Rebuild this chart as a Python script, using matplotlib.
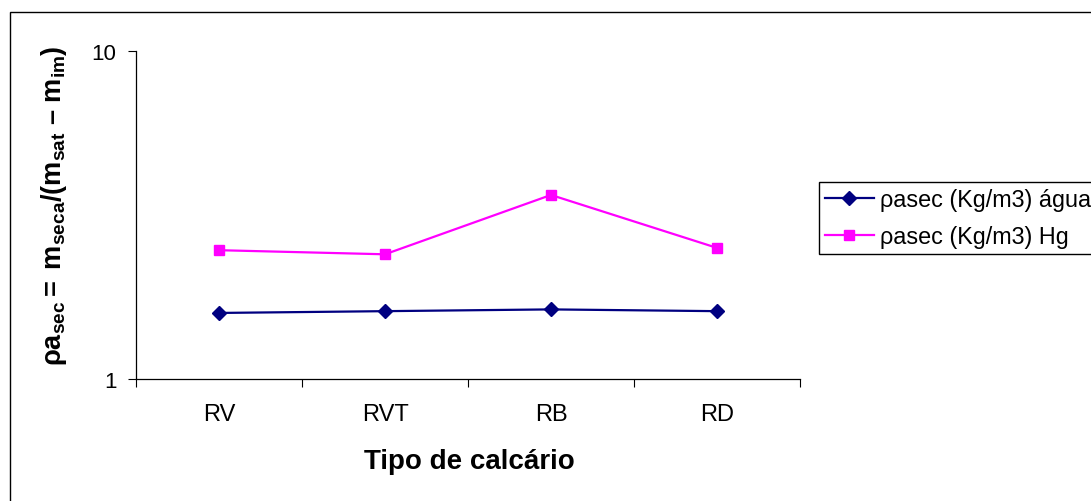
import matplotlib
matplotlib.use("Agg")
import matplotlib.pyplot as plt
from matplotlib.patches import Rectangle
from matplotlib.ticker import FixedLocator, NullLocator, NullFormatter, FixedFormatter

# data
categories = ['RV', 'RVT', 'RB', 'RD']
rho_agua = [1.59, 1.61, 1.63, 1.61]
rho_hg = [2.47, 2.40, 3.64, 2.51]
series_labels = ['ρasec (Kg/m3) água', 'ρasec (Kg/m3) Hg']

plt.rcParams['font.family'] = ['Liberation Sans', 'DejaVu Sans']
plt.rcParams['mathtext.fontset'] = 'custom'
plt.rcParams['mathtext.rm'] = 'Liberation Sans'
plt.rcParams['mathtext.bf'] = 'Liberation Sans:bold'
plt.rcParams['mathtext.it'] = 'Liberation Sans:italic'

W, H = 1091, 502
fig = plt.figure(figsize=(W / 100, H / 100), dpi=100)

# outer chart border (cut off at right and bottom like the reference)
fig.patches.append(Rectangle((10 / W, -0.1), 1.2, 1 - 13 / H + 0.1,
                             transform=fig.transFigure, fill=False,
                             edgecolor='black', linewidth=1))

ax = fig.add_axes([136 / W, 1 - 380 / H, (800 - 136) / W, (380 - 52) / H])

x = list(range(len(categories)))
ax.plot(x, rho_agua, color='#000080', marker='D', markersize=7, linewidth=1.6,
        label=series_labels[0])
ax.plot(x, rho_hg, color='#FF00FF', marker='s', markersize=7, linewidth=1.6,
        label=series_labels[1])

ax.set_yscale('log')
ax.set_ylim(1, 10)
ax.yaxis.set_major_locator(FixedLocator([1, 10]))
ax.yaxis.set_major_formatter(FixedFormatter(['1', '10']))
ax.yaxis.set_minor_locator(NullLocator())
ax.yaxis.set_minor_formatter(NullFormatter())

ax.set_xlim(-0.5, len(categories) - 0.5)
ax.set_xticks([i - 0.5 for i in range(len(categories) + 1)])
ax.set_xticklabels([])
ax.set_xticks(x, minor=True)
ax.set_xticklabels(categories, minor=True)
ax.tick_params(axis='x', which='minor', length=0, pad=17, labelsize=17)
ax.tick_params(axis='x', which='major', length=6, width=0.8, direction='out')
ax.tick_params(axis='y', which='major', length=6, width=0.8, direction='out',
               labelsize=16, pad=8)

for side in ['top', 'right']:
    ax.spines[side].set_visible(False)
for side in ['left', 'bottom']:
    ax.spines[side].set_linewidth(0.9)

fig.text(54 / W, 1 - 206 / H,
         r'$\mathbf{ρa_{sec}{=}\ m_{seca}/(m_{sat}\ {–}\ m_{im})}$',
         rotation=90, ha='center', va='center', fontsize=19.5)
fig.text(469 / W, 1 - 469 / H, 'Tipo de calcário', ha='center', va='baseline',
         fontsize=20, fontweight='bold')

leg = fig.legend(loc='upper left', bbox_to_anchor=(819 / W, 1 - 183 / H),
                 bbox_transform=fig.transFigure, borderaxespad=0,
                 fancybox=False, edgecolor='black', framealpha=1,
                 fontsize=16.8, handlelength=2.1, handletextpad=0.25,
                 labelspacing=0.62, borderpad=0.25)
leg.get_frame().set_linewidth(1)

fig.savefig('out.png', dpi=100)
